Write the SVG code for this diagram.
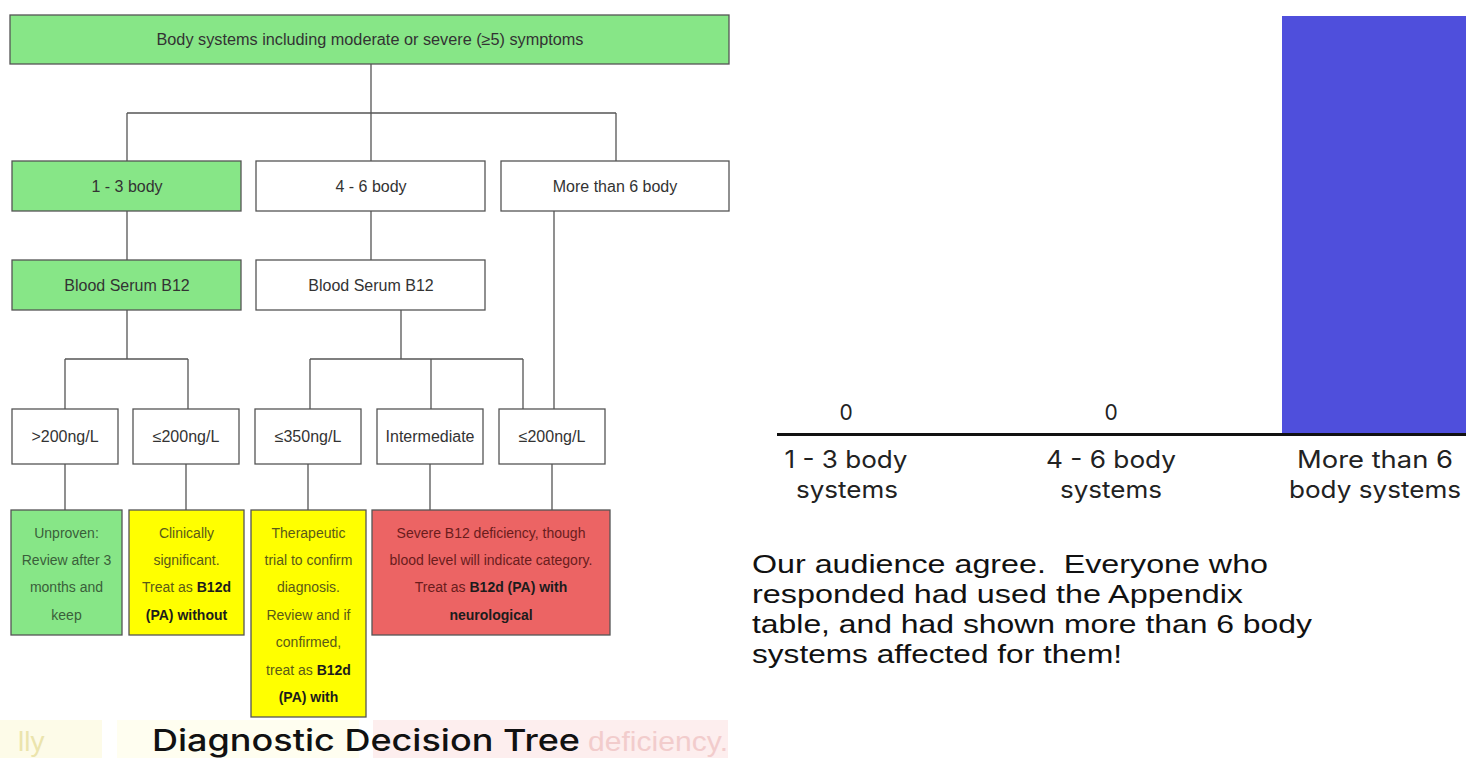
<svg xmlns="http://www.w3.org/2000/svg" width="1466" height="758" viewBox="0 0 1466 758">
<style>
.box{stroke:#555;stroke-width:1.3}
.g{fill:#87e687}
.w{fill:#ffffff}
.y{fill:#ffff00}
.r{fill:#ec6464}
.t{font-family:"Liberation Sans",Arial,sans-serif;font-size:16px;fill:#333;text-anchor:middle}
.s{font-family:"Liberation Sans",Arial,sans-serif;font-size:14px;text-anchor:middle}
.sg{fill:#3a5f3a}
.sy{fill:#5a5a18}
.sr{fill:#6a1c1c}
.b{font-weight:bold;fill:#1c1c1c}
.con{stroke:#555;stroke-width:1.3;fill:none}
.geo{font-family:Inter,"Noto Sans",sans-serif;fill:#222;text-anchor:middle}
.para{font-family:"Liberation Sans",Arial,sans-serif;font-size:25px;fill:#111}
</style>
<rect width="1466" height="758" fill="#ffffff"/>

<g id="faded">
<rect x="0" y="720" width="102" height="38" fill="#fdfbe8"/>
<rect x="117" y="720" width="242" height="38" fill="#fffef0"/>
<rect x="373" y="720" width="355" height="38" fill="#fdeeee"/>
<text x="18" y="751" font-family="Liberation Sans,Arial,sans-serif" font-size="28" fill="#ebe4ad">lly</text>
<text x="588" y="751" font-family="Liberation Sans,Arial,sans-serif" font-size="28" fill="#f2cccc" textLength="140" lengthAdjust="spacingAndGlyphs">deficiency.</text>
</g>

<g id="connectors">
<path class="con" d="M371 64V113M127 113H616M127 113V161M371 113V161M616 113V161"/>
<path class="con" d="M127 211V260M371 211V260M554 211V409"/>
<path class="con" d="M127 310V359M65 359H188M65 359V409M188 359V409"/>
<path class="con" d="M401 310V359M310 359H523M310 359V409M431 359V409M523 359V409"/>
<path class="con" d="M65 464V510M186 464V510M308 464V510M430 464V510M552 464V510"/>
</g>

<g id="n-top"><rect class="box g" x="10" y="15" width="719" height="49"/><text class="t" x="370" y="45" font-size="17" textLength="427" lengthAdjust="spacingAndGlyphs">Body systems including moderate or severe (≥5) symptoms</text></g>

<g id="n-13"><rect class="box g" x="12" y="161" width="229" height="50"/><text class="t" x="127" y="192">1 - 3 body</text></g>
<g id="n-46"><rect class="box w" x="256" y="161" width="229" height="50"/><text class="t" x="371" y="192">4 - 6 body</text></g>
<g id="n-6p"><rect class="box w" x="501" y="161" width="228" height="50"/><text class="t" x="615" y="192">More than 6 body</text></g>

<g id="n-bs1"><rect class="box g" x="12" y="260" width="229" height="50"/><text class="t" x="127" y="291">Blood Serum B12</text></g>
<g id="n-bs2"><rect class="box w" x="256" y="260" width="229" height="50"/><text class="t" x="371" y="291">Blood Serum B12</text></g>

<g id="n-gt200"><rect class="box w" x="12" y="409" width="106" height="55"/><text class="t" x="65" y="442">&gt;200ng/L</text></g>
<g id="n-le200a"><rect class="box w" x="133" y="409" width="106" height="55"/><text class="t" x="186" y="442">≤200ng/L</text></g>
<g id="n-le350"><rect class="box w" x="255" y="409" width="106" height="55"/><text class="t" x="308" y="442">≤350ng/L</text></g>
<g id="n-inter"><rect class="box w" x="377" y="409" width="106" height="55"/><text class="t" x="430" y="442">Intermediate</text></g>
<g id="n-le200b"><rect class="box w" x="499" y="409" width="106" height="55"/><text class="t" x="552" y="442">≤200ng/L</text></g>

<g id="n-unproven"><rect class="box g" x="11" y="510" width="111" height="125"/>
<text class="s sg" x="66.5" y="538">Unproven:</text>
<text class="s sg" x="66.5" y="565">Review after 3</text>
<text class="s sg" x="66.5" y="592">months and</text>
<text class="s sg" x="66.5" y="620">keep</text></g>

<g id="n-clin"><rect class="box y" x="129" y="510" width="115" height="125"/>
<text class="s sy" x="186.5" y="538">Clinically</text>
<text class="s sy" x="186.5" y="565">significant.</text>
<text class="s sy" x="186.5" y="592">Treat as <tspan class="b">B12d</tspan></text>
<text class="s b" x="186.5" y="620">(PA) without</text></g>

<g id="n-thera"><rect class="box y" x="251" y="510" width="115" height="207"/>
<text class="s sy" x="308.5" y="538">Therapeutic</text>
<text class="s sy" x="308.5" y="565">trial to confirm</text>
<text class="s sy" x="308.5" y="592">diagnosis.</text>
<text class="s sy" x="308.5" y="620">Review and if</text>
<text class="s sy" x="308.5" y="647">confirmed,</text>
<text class="s sy" x="308.5" y="675">treat as <tspan class="b">B12d</tspan></text>
<text class="s b" x="308.5" y="702">(PA) with</text></g>

<g id="n-severe"><rect class="box r" x="372" y="510" width="238" height="125"/>
<text class="s sr" x="491" y="538">Severe B12 deficiency, though</text>
<text class="s sr" x="491" y="565">blood level will indicate category.</text>
<text class="s sr" x="491" y="592">Treat as <tspan class="b">B12d (PA) with</tspan></text>
<text class="s b" x="491" y="620">neurological</text></g>

<text id="title" x="366" y="751" font-family="Inter,'Noto Sans',sans-serif" font-size="30" font-weight="500" fill="#111" text-anchor="middle" textLength="428" lengthAdjust="spacingAndGlyphs">Diagnostic Decision Tree</text>

<g id="chart">
<rect x="1282" y="16" width="184" height="418" fill="#4f4fdc"/>
<line x1="777" y1="434.5" x2="1466" y2="434.5" stroke="#111" stroke-width="3"/>
<text class="geo" x="846" y="420" font-size="21">0</text>
<text class="geo" x="1111" y="420" font-size="21">0</text>
<text class="geo" x="846" y="468" font-size="24" textLength="123" lengthAdjust="spacingAndGlyphs">1 - 3 body</text>
<text class="geo" x="847" y="498" font-size="24" textLength="102" lengthAdjust="spacingAndGlyphs">systems</text>
<text class="geo" x="1111" y="468" font-size="24" textLength="130" lengthAdjust="spacingAndGlyphs">4 - 6 body</text>
<text class="geo" x="1111" y="498" font-size="24" textLength="102" lengthAdjust="spacingAndGlyphs">systems</text>
<text class="geo" x="1375" y="468" font-size="24" textLength="156" lengthAdjust="spacingAndGlyphs">More than 6</text>
<text class="geo" x="1375" y="498" font-size="24" textLength="172" lengthAdjust="spacingAndGlyphs">body systems</text>
</g>

<g id="para">
<text class="para" x="752" y="573" xml:space="preserve" textLength="516" lengthAdjust="spacingAndGlyphs">Our audience agree.  Everyone who</text>
<text class="para" x="752" y="603" textLength="491" lengthAdjust="spacingAndGlyphs">responded had used the Appendix</text>
<text class="para" x="752" y="633" textLength="560" lengthAdjust="spacingAndGlyphs">table, and had shown more than 6 body</text>
<text class="para" x="752" y="663" textLength="370" lengthAdjust="spacingAndGlyphs">systems affected for them!</text>
</g>
</svg>
